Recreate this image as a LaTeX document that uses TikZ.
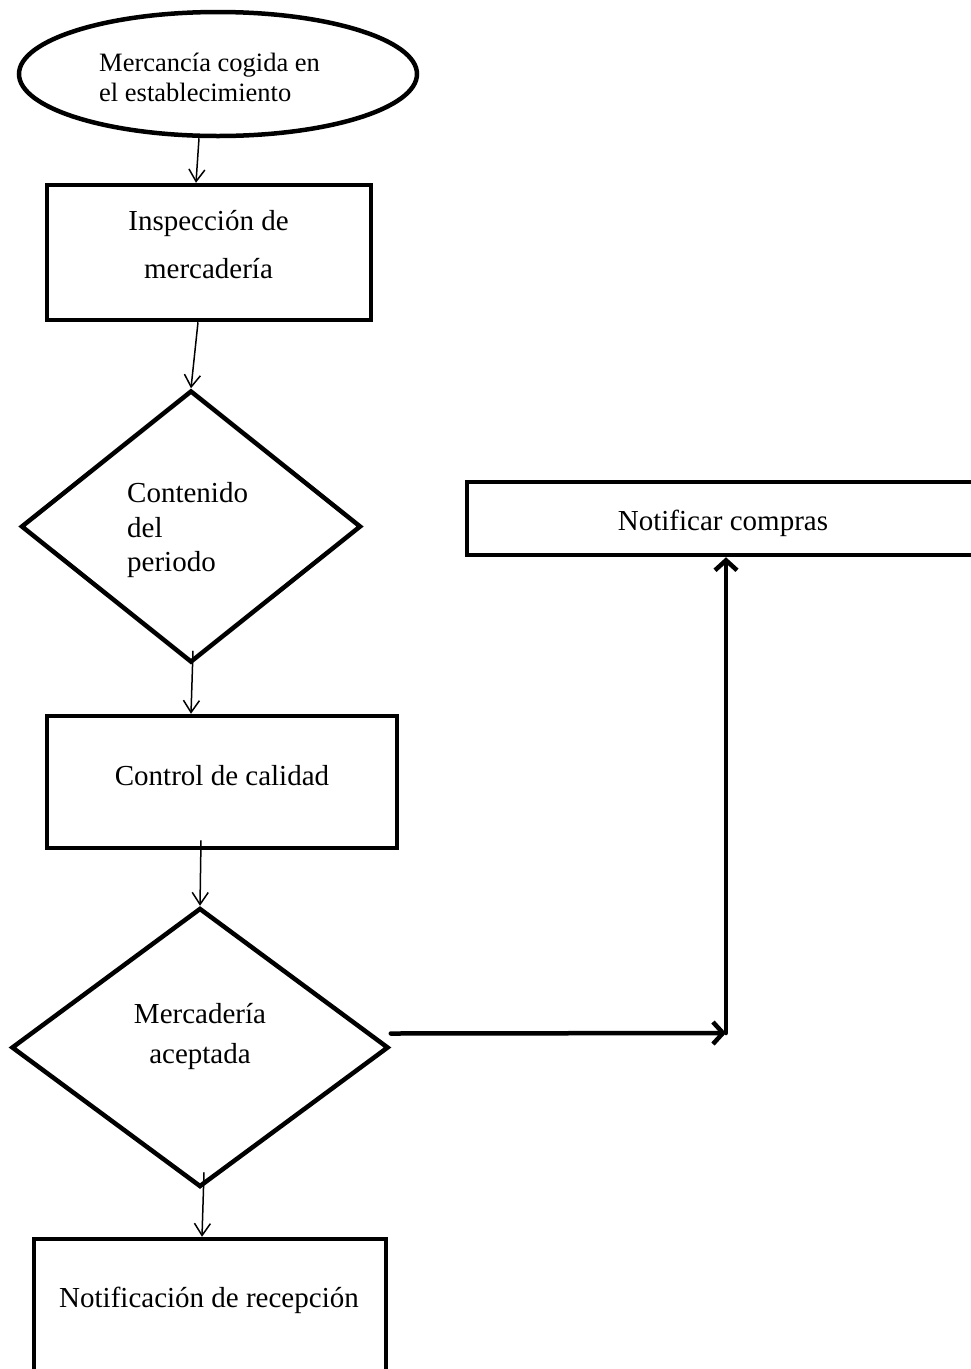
\documentclass[tikz,border=0pt]{standalone}
\usepackage{fontspec}
\setmainfont{Liberation Serif}
\usetikzlibrary{shapes.geometric,arrows.meta}
\begin{document}
\begin{tikzpicture}[x=1pt,y=-1pt,
  shp/.style={draw, line width=4.5pt, inner sep=0pt},
  boxnode/.style={shp, rectangle},
  lbl/.style={font=\fontsize{29}{34}\selectfont, inner sep=0pt},
  smalllbl/.style={font=\fontsize{26.5}{30}\selectfont, inner sep=0pt},
  thinarrow/.style={line width=1.5pt, -{Straight Barb[length=12pt,width=16pt]}},
  thickarrow/.style={line width=4.5pt, line cap=round, -{Straight Barb[length=10pt,width=22pt]}}]
\useasboundingbox (0,0) rectangle (971,1369);

% start ellipse
\node[shp, ellipse, minimum width=398pt, minimum height=124pt] (ell) at (218,74) {};
\node[smalllbl, anchor=base west] (ellA) at (99,71) {Mercancía cogida en};
\node[smalllbl, anchor=base west] (ellB) at (99,101) {el establecimiento};

% box 1
\node[boxnode, minimum width=324pt, minimum height=135pt] (b1) at (209,252.5) {};
\node[lbl, anchor=base] (b1A) at (208.5,230) {Inspección de};
\node[lbl, anchor=base] (b1B) at (208.5,278) {mercadería};

% diamond 1
\node[shp, diamond, minimum width=340pt, minimum height=272pt] (d1) at (191,526.5) {};
\node[lbl, anchor=base west] (d1A) at (127,502) {Contenido};
\node[lbl, anchor=base west] (d1B) at (127,537) {del};
\node[lbl, anchor=base west] (d1C) at (127,571) {periodo};

% box 2
\node[boxnode, minimum width=350pt, minimum height=132pt] (b2) at (222,782) {};
\node[lbl, anchor=base] (b2A) at (222,785) {Control de calidad};

% diamond 2
\node[shp, diamond, minimum width=377pt, minimum height=279pt] (d2) at (200,1047.5) {};
\node[lbl, anchor=base] (d2A) at (200,1023) {Mercadería};
\node[lbl, anchor=base] (d2B) at (200,1063) {aceptada};

% box 3
\node[boxnode, minimum width=352pt, minimum height=161pt] (b3) at (210,1319.5) {};
\node[lbl, anchor=base] (b3A) at (209,1307) {Notificación de recepción};

% notify box
\node[boxnode, minimum width=513pt, minimum height=73pt] (nc) at (723.5,518.5) {};
\node[lbl, anchor=base] (ncA) at (723,530) {Notificar compras};

% thin arrows
\draw[thinarrow] ([xshift=-19pt]ell.south) -- ([xshift=-13pt]b1.north);
\draw[thinarrow] ([xshift=-11pt]b1.south) -- (d1.north);
\draw[thinarrow] ([xshift=2pt,yshift=14pt]d1.south) -- ([xshift=-31pt]b2.north);
\draw[thinarrow] ([xshift=-21pt,yshift=10pt]b2.south) -- (d2.north);
\draw[thinarrow] ([xshift=4pt,yshift=17pt]d2.south) -- ([xshift=-8pt]b3.north);

% thick arrows
\coordinate (j) at (726,1033);
\draw[thickarrow] ([yshift=14pt]d2.east) -- (j);
\draw[thickarrow] (j) -- ([xshift=2.5pt]nc.south);
\end{tikzpicture}
\end{document}
